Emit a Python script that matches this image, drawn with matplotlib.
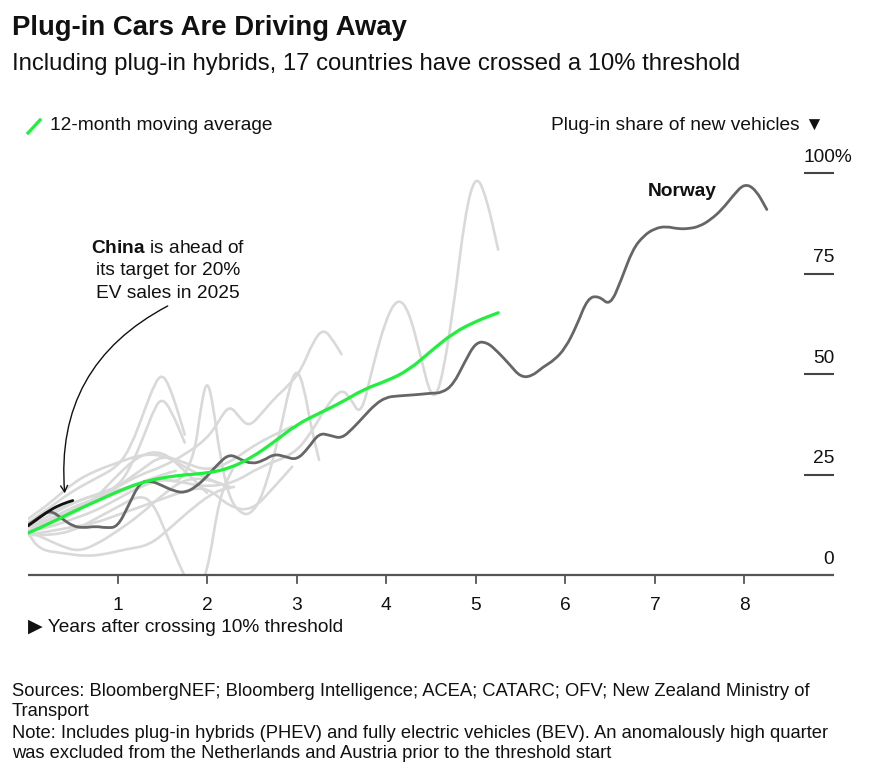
import numpy as np
import matplotlib
matplotlib.use("Agg")
import matplotlib.pyplot as plt
from matplotlib.path import Path
from matplotlib.patches import PathPatch
from matplotlib.lines import Line2D
from matplotlib import font_manager

##############################
# DATA
##############################

norway_x = [0, 0.125, 0.25, 0.375, 0.5, 0.625, 0.75, 0.875, 1.0, 1.125, 1.25, 1.375,
            1.5, 1.625, 1.75, 1.875, 2.0, 2.125, 2.25, 2.375, 2.5, 2.625, 2.75, 2.875,
            3.0, 3.125, 3.25, 3.375, 3.5, 3.625, 3.75, 3.875, 4.0, 4.125, 4.25, 4.375,
            4.5, 4.625, 4.75, 4.875, 5.0, 5.125, 5.25, 5.375, 5.5, 5.625, 5.75, 5.875,
            6.0, 6.125, 6.25, 6.375, 6.5, 6.625, 6.75, 6.875, 7.0, 7.125, 7.25, 7.375,
            7.5, 7.625, 7.75, 7.875, 8.0, 8.125, 8.25]
norway_y = [12.5, 14.5, 16.2, 14.2, 12.2, 11.8, 12.2, 11.8, 12.0, 17.5, 23.2, 23.5,
            22.3, 21.0, 20.5, 22.0, 24.6, 27.8, 30.2, 28.8, 27.7, 28.5, 30.2, 29.5,
            28.7, 31.5, 35.4, 34.8, 34.0, 36.5, 39.5, 42.5, 44.3, 44.6, 44.8, 45.0,
            45.3, 45.4, 47.5, 53.0, 58.0, 58.0, 55.5, 52.5, 49.3, 49.5, 51.8, 53.5,
            56.5, 62.0, 69.0, 69.5, 67.0, 73.5, 81.0, 84.5, 86.3, 86.8, 86.2, 86.2,
            86.8, 88.5, 91.0, 94.5, 97.5, 96.0, 91.0]

avg_x = [0, 0.25, 0.5, 0.75, 1.0, 1.25, 1.5, 1.75, 2.0, 2.25, 2.5, 2.75, 3.0,
         3.25, 3.5, 3.75, 4.0, 4.25, 4.5, 4.75, 5.0, 5.25]
avg_y = [10.5, 13.0, 15.8, 18.3, 20.8, 23.0, 24.3, 25.0, 25.4, 26.6, 29.3, 33.2, 37.5,
         40.3, 43.0, 46.3, 48.3, 51.0, 55.8, 60.3, 63.2, 65.3]

china_x = [0, 0.125, 0.25, 0.375, 0.5]
china_y = [12.3, 14.3, 16.3, 17.7, 18.6]

# other countries (grey), each as (years, share)
other_countries = [
    ([0, 0.25, 0.5, 0.75, 1.0, 1.25, 1.5, 1.75, 2.0, 2.3, 2.59, 2.96, 3.15, 3.33, 3.5,
      3.6, 3.72, 3.85, 4.0, 4.13, 4.25, 4.38, 4.5, 4.6, 4.75, 4.88, 5.0, 5.12, 5.25],
     [11, 12, 14, 16, 19, 22, 24, 23, 22, 23, 27, 30, 35, 42, 46.5,
      44, 39.5, 52, 64, 69, 66, 55, 44, 46, 66, 90, 100, 94, 81]),
    ([0, 0.25, 0.5, 0.75, 1.0, 1.25, 1.5, 1.75, 2.0, 2.12, 2.25, 2.37, 2.47, 2.6,
      2.75, 2.9, 3.05, 3.18, 3.3, 3.42, 3.5],
     [12, 14, 17, 19, 22, 25, 27, 30, 34, 38, 42.5, 39, 37, 40, 44, 47, 51, 58, 61.5, 58, 55]),
    ([0, 0.25, 0.5, 0.75, 1.0, 1.25, 1.5, 1.7, 1.86, 1.93, 2.0, 2.07, 2.14, 2.25, 2.37,
      2.48, 2.62, 2.81, 2.92, 3.0, 3.08, 3.16, 3.25],
     [11, 14, 16, 19, 21, 23, 24, 23, 30, 42, 49, 42, 30, 19, 15.5,
      15, 19.5, 35, 47, 51.5, 47, 37, 28.7]),
    ([0, 0.25, 0.5, 0.75, 1.0, 1.25, 1.4, 1.55, 1.73, 1.86, 2.0, 2.14, 2.3],
     [10, 10, 11, 14, 17, 20, 18, 10, 0.5, -5, 0, 20, 27]),
    ([0, 0.25, 0.5, 0.75, 1.0, 1.15, 1.3, 1.42, 1.5, 1.58, 1.67, 1.75],
     [13, 17, 21, 24, 27, 32, 41, 48, 50, 47, 41, 35]),
    ([0, 0.25, 0.5, 0.75, 1.0, 1.15, 1.3, 1.42, 1.5, 1.6, 1.75],
     [11, 13, 16, 19, 22, 27, 35, 42, 44, 41, 33]),
    ([0, 0.25, 0.5, 0.75, 1.0, 1.25, 1.5, 1.75, 2.0],
     [12, 13, 15, 19, 25, 30, 31, 26, 20.5]),
    ([0, 0.13, 0.39, 0.65, 0.87, 1.1, 1.36, 1.6, 1.85, 2.1, 2.3],
     [10.5, 6.3, 5.5, 4.7, 5.3, 6.5, 7.5, 12, 17, 21, 22]),
    ([0, 0.25, 0.5, 0.75, 1.0, 1.25, 1.5, 1.75, 2.0, 2.25],
     [14, 18, 23, 26, 28, 30, 30, 27, 24, 22]),
    ([0, 0.2, 0.4, 0.56, 0.75, 1.0, 1.25, 1.5, 1.75, 2.0, 2.25],
     [11, 9, 7, 6, 7.5, 11, 15, 20, 24, 24, 22]),
    ([0, 0.25, 0.5, 0.75, 1.0, 1.25, 1.5, 1.75, 2.0, 2.25, 2.5, 2.75, 2.95],
     [13, 16, 18, 20, 22, 26, 30, 28, 26, 28, 32, 35, 37]),
    ([0, 0.25, 0.5, 0.75, 1.0, 1.25, 1.5, 1.65],
     [12, 15, 18, 20, 21, 23, 25, 26]),
    ([0, 0.25, 0.5, 0.75, 1.0, 1.25, 1.5, 1.75, 2.0, 2.25, 2.5, 2.75, 2.95],
     [10, 11, 12, 13, 15, 17, 19, 21, 22, 17, 16, 22, 27]),
]

y_ticks = [0, 25, 50, 75]
x_ticks = [1, 2, 3, 4, 5, 6, 7, 8]

##############################
# STYLE
##############################

W, H = 869, 775
green = '#1ff03c'
grey = '#d9d9d9'
dark = '#666666'
ink = '#111111'
fs = 13.8

names = {f.name for f in font_manager.fontManager.ttflist}
base_font = 'Liberation Sans' if 'Liberation Sans' in names else 'DejaVu Sans'

plt.rcParams['font.family'] = [base_font, 'DejaVu Sans']
plt.rcParams['mathtext.fontset'] = 'custom'
plt.rcParams['mathtext.rm'] = base_font
plt.rcParams['mathtext.bf'] = base_font + ':bold'


def smooth_line(ax, xs, ys, color, lw, z):
    # quadratic b-spline style curve through midpoints
    verts = [(xs[0], ys[0]), ((xs[0] + xs[1]) / 2, (ys[0] + ys[1]) / 2)]
    codes = [Path.MOVETO, Path.LINETO]
    for i in range(1, len(xs) - 1):
        verts += [(xs[i], ys[i]), ((xs[i] + xs[i + 1]) / 2, (ys[i] + ys[i + 1]) / 2)]
        codes += [Path.CURVE3, Path.CURVE3]
    verts.append((xs[-1], ys[-1]))
    codes.append(Path.LINETO)
    patch = PathPatch(Path(verts, codes), fill=False, edgecolor=color, lw=lw,
                      capstyle='round', joinstyle='round', zorder=z)
    ax.add_patch(patch)


def px(x, y):
    return x / W, 1 - y / H


fig = plt.figure(figsize=(W / 100, H / 100), dpi=100)
ax = fig.add_axes([28 / W, (H - 575.3) / H, 806 / W, 442.2 / H])
ax.set_xlim(0, 9)
ax.set_ylim(0, 110)
ax.axis('off')

for xs, ys in other_countries:
    smooth_line(ax, xs, ys, grey, 1.9, 1)
smooth_line(ax, norway_x, norway_y, dark, 2.0, 3)
smooth_line(ax, avg_x, avg_y, green, 2.3, 4)
smooth_line(ax, china_x, china_y, ink, 2.0, 5)

# baseline + ticks
ax.plot([0, 9], [0, 0], color='#555555', lw=1.6, clip_on=False, zorder=6,
        solid_capstyle='butt')
for t in x_ticks:
    ax.plot([t, t], [0, -1.8], color='#555555', lw=1.3, clip_on=False, zorder=6)
    ax.text(t, -7.4, str(t), ha='center', va='center', fontsize=fs, color=ink)

# right side value labels
for v in y_ticks[1:] + [100]:
    ax.plot([8.66, 9.0], [v, v], color='#444444', lw=1.5, solid_capstyle='butt')
for v in y_ticks:
    ax.text(9.0, v + 4, str(v), ha='right', va='center', fontsize=fs, color=ink)
ax.text(8.66, 104, '100%', ha='left', va='center', fontsize=fs, color=ink)

ax.text(7.3, 95.5, 'Norway', ha='center', va='center', fontsize=fs,
        fontweight='bold', color=ink)

ax.text(1.56, 75.7, '$\\bf{China}$ is ahead of\nits target for 20%\nEV sales in 2025',
        ha='center', va='center', fontsize=fs, linespacing=1.42, color=ink)
ax.annotate('', xy=(0.41, 20.4), xytext=(1.56, 67),
            arrowprops=dict(arrowstyle='->,head_width=0.25,head_length=0.45',
                            color=ink, lw=1.0,
                            connectionstyle='arc3,rad=0.33', shrinkA=0, shrinkB=0))

# titles
fig.text(*px(12, 28), 'Plug-in Cars Are Driving Away', fontsize=19.8,
         fontweight='bold', va='center', color=ink)
fig.text(*px(12, 64), 'Including plug-in hybrids, 17 countries have crossed a 10% threshold',
         fontsize=17.2, va='center', color=ink)

# legend + axis notes
fig.add_artist(Line2D([28 / W, 40 / W], [1 - 133 / H, 1 - 120 / H], color=green,
                      lw=2.3, transform=fig.transFigure))
fig.text(*px(50, 126), '12-month moving average', fontsize=fs, va='center', color=ink)
fig.text(*px(824, 126), 'Plug-in share of new vehicles \u25bc', fontsize=fs,
         va='center', ha='right', color=ink)
fig.text(*px(28, 627), '\u25b6 Years after crossing 10% threshold', fontsize=fs,
         va='center', color=ink)

notes = ['Sources: BloombergNEF; Bloomberg Intelligence; ACEA; CATARC; OFV; New Zealand Ministry of',
         'Transport',
         'Note: Includes plug-in hybrids (PHEV) and fully electric vehicles (BEV). An anomalously high quarter',
         'was excluded from the Netherlands and Austria prior to the threshold start']
for i, line in enumerate(notes):
    fig.text(*px(12, 691 + 21 * i), line, fontsize=13.2, va='center', color=ink)

plt.savefig('out.png', dpi=100)
